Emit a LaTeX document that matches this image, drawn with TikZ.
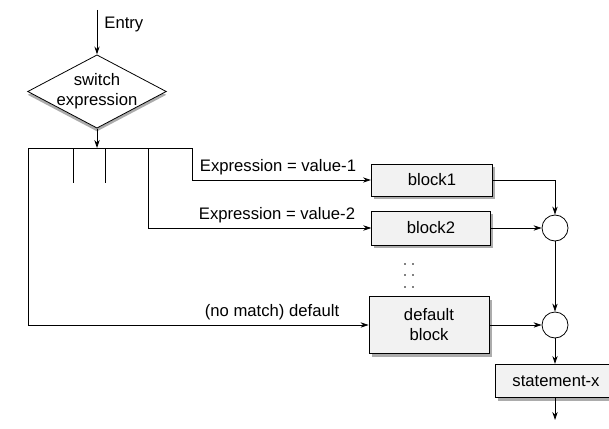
\documentclass[tikz,border=0pt]{standalone}
\usepackage{fontspec}
\setmainfont{Liberation Sans}
\usetikzlibrary{shapes.geometric,arrows.meta,shadows}

\begin{document}
\begin{tikzpicture}[x=0.75pt,y=-0.75pt,
  font=\fontsize{12.5}{15}\selectfont,
  line width=0.6pt,
  arr/.style={-{Stealth[length=6pt,width=4pt]}},
  shade box/.style={drop shadow={shadow xshift=2pt,shadow yshift=-2.5pt,fill=gray!65,opacity=1}},
  blockbox/.style={draw, fill=gray!10, shade box, inner sep=0pt, align=center},
  joiner/.style={draw, circle, fill=white, minimum size=19.5pt, inner sep=0pt},
  caselabel/.style={inner sep=1pt}]

  \useasboundingbox (0,0) rectangle (609,428);

  % decision
  \node[diamond, draw, fill=white, minimum width=104pt, minimum height=55pt,
        inner sep=0pt,
        drop shadow={shadow xshift=0pt,shadow yshift=-2.5pt,fill=gray!65,opacity=1},
        label={[align=center, inner sep=0pt]center:switch\\expression}]
        (sw) at (97,91.5) {};

  \coordinate (entry) at (97,10);
  \draw[arr] (entry) -- (sw.north);
  \node[anchor=west, inner sep=0pt] (entrylbl) at (104,24) {Entry};

  % case bar
  \coordinate (barL) at (28,148);
  \coordinate (barR) at (192,148);
  \coordinate (t2) at (148,148);
  \coordinate (ta) at (73,148);
  \coordinate (tb) at (105,148);
  \coordinate (ea) at (73,183);
  \coordinate (eb) at (105,183);
  \draw[arr] (sw.south) -- (sw.south |- barL);
  \draw (barL) -- (barR);
  \draw (ta) -- (ea);
  \draw (tb) -- (eb);

  % blocks
  \node[blockbox, minimum width=91pt, minimum height=24pt] (b1) at (432,180) {block1};
  \node[blockbox, minimum width=89pt, minimum height=25.5pt] (b2) at (431,228) {block2};
  \node[blockbox, minimum width=90pt, minimum height=43pt] (bd) at (429,325) {default\\block};
  \node[blockbox, minimum width=91.5pt, minimum height=25pt] (sx) at (556,381) {statement-x};

  % joins
  \node[joiner] (c1) at (555,228) {};
  \node[joiner] (c2) at (555,325) {};

  % case branches
  \draw[arr] (barR) |- (b1.west);
  \draw[arr] (t2) |- (b2.west);
  \draw[arr] (barL) |- (bd.west);
  \node[caselabel] (l1) at (278,167) {Expression = value-1};
  \node[caselabel] (l2) at (277,215) {Expression = value-2};
  \node[caselabel] (l3) at (272,312) {(no match) default};

  % more cases
  \foreach \yy in {264,275,287} {
    \fill (405,\yy) circle (0.9);
    \fill (413,\yy) circle (0.9);
  }

  % merging
  \draw[arr] (b1.east) -| (c1.north);
  \draw[arr] (b2.east) -- (c1.west);
  \draw[arr] (c1.south) -- (c2.north);
  \draw[arr] (bd.east) -- (c2.west);
  \draw[arr] (c2.south) -- (c2.south |- sx.north);
  \coordinate (exit) at (555,420);
  \draw[arr] (sx.south -| exit) -- (exit);
\end{tikzpicture}
\end{document}
